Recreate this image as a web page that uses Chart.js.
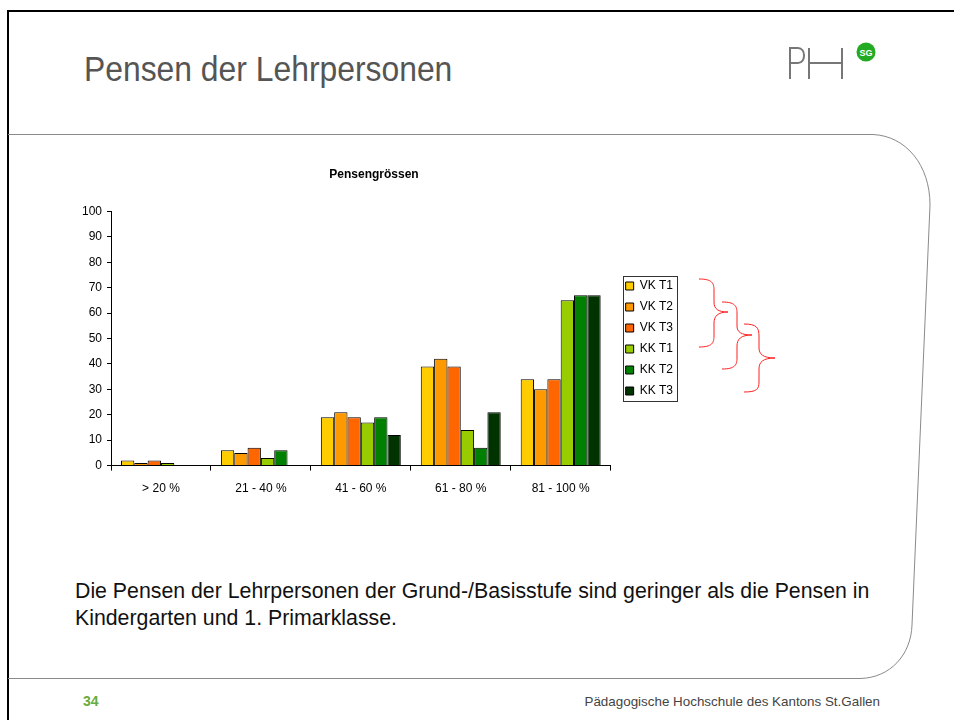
<!DOCTYPE html>
<html>
<head>
<meta charset="utf-8">
<script src="https://cdn.jsdelivr.net/npm/chart.js@4.4.0/dist/chart.umd.min.js"></script>
<style>
  body { margin: 0; width: 954px; height: 720px; background: #fff; position: relative; overflow: hidden; font-family: "Liberation Sans", Arial, sans-serif; }
  #deko { position: absolute; left: 0; top: 0; }
  #chartBox { position: absolute; left: 71px; top: 160px; width: 612px; height: 354px; }
  .title { position: absolute; left: 84px; top: 49px; font-size: 35px; color: #555; transform: scaleX(0.91); transform-origin: left top; white-space: nowrap; }
  .body { position: absolute; left: 75px; top: 578px; font-size: 21.3px; line-height: 27px; color: #111; white-space: nowrap; }
  .nr { position: absolute; left: 83px; top: 693px; font-size: 14px; font-weight: bold; color: #6aab3a; }
  .foot { position: absolute; right: 74px; top: 694px; font-size: 13.4px; color: #444; }
</style>
</head>
<body>
<svg id="deko" width="954" height="720">
  <line x1="7" y1="11" x2="954" y2="11" stroke="#000" stroke-width="2"/>
  <line x1="8" y1="10" x2="8" y2="720" stroke="#000" stroke-width="2"/>
  <path d="M 8 134.5 L 873 134.5 C 906 136, 930 165, 930 205 L 912 625 C 911 655, 890 678, 860 678.5 L 8 678.5" fill="none" stroke="#8a8a8a" stroke-width="1"/>
  <!-- logo -->
  <path d="M 790 79 L 790 48 L 798 48 C 806 48, 806 63, 798 63 L 790 63" fill="none" stroke="#777" stroke-width="2"/>
  <path d="M 809 48 L 809 79 M 809 63 L 842 63 M 842 48 L 842 79" fill="none" stroke="#777" stroke-width="2"/>
  <circle cx="866" cy="52" r="9.5" fill="#22aa22"/>
  <text x="866" y="55.5" font-size="9" font-weight="bold" fill="#fff" text-anchor="middle" font-family="Liberation Sans, Arial">SG</text>
  <!-- Klammern -->
  <g fill="none" stroke="#ff2020" stroke-width="1">
    <path d="M 699 279 C 712 279, 714 283, 714 290 L 714 302 C 714 309, 718 312, 728 312 C 718 312, 714 316, 714 323 L 714 336 C 714 343, 712 347, 699 347"/>
    <path d="M 722 302 C 735 302, 737 306, 737 313 L 737 326 C 737 332, 741 335, 752 335 C 741 335, 737 339, 737 346 L 737 358 C 737 365, 735 369, 722 369"/>
    <path d="M 744 324 C 757 324, 759 328, 759 336 L 759 348 C 759 354, 763 358, 775 358 C 763 358, 759 362, 759 369 L 759 382 C 759 389, 757 392, 744 392"/>
  </g>
</svg>
<div class="title">Pensen der Lehrpersonen</div>
<div id="chartBox"><canvas id="myChart"></canvas></div>
<div class="body">Die Pensen der Lehrpersonen der Grund-/Basisstufe sind geringer als die Pensen in<br>Kindergarten und 1. Primarklasse.</div>
<div class="nr">34</div>
<div class="foot">Pädagogische Hochschule des Kantons St.Gallen</div>
<script>
var categories = ['> 20 %', '21 - 40 %', '41 - 60 %', '61 - 80 %', '81 - 100 %'];
var vkT1 = [2, 6, 19, 39, 34];
var vkT2 = [1, 5, 21, 42, 30];
var vkT3 = [2, 7, 19, 39, 34];
var kkT1 = [1, 3, 17, 14, 65];
var kkT2 = [0, 6, 19, 7, 67];
var kkT3 = [0, 0, 12, 21, 67];

var legendGap = 6;
var legendDrop = 5;
var titleShift = -3;

// Legende etwas vom Diagramm abrücken und einrahmen
var legendFrame = {
    id: 'legendFrame',
    beforeUpdate: function(chart) {
        var lg = chart.legend;
        if (lg && !lg._gapPatched) {
            var fit = lg.fit;
            lg.fit = function() { fit.call(this); this.width += legendGap; };
            lg._gapPatched = true;
        }
    },
    afterLayout: function(chart) {
        var lg = chart.legend;
        lg.left += legendGap; lg.right += legendGap;
        lg.top += legendDrop; lg.bottom += legendDrop;
        if (chart.titleBlock) {
            chart.titleBlock.left += titleShift;
            chart.titleBlock.right += titleShift;
        }
    },
    afterDraw: function(chart) {
        var boxes = chart.legend.legendHitBoxes;
        if (!boxes || !boxes.length) return;
        var l = Infinity, t = Infinity, r = -Infinity, b = -Infinity;
        boxes.forEach(function(h) {
            l = Math.min(l, h.left); t = Math.min(t, h.top);
            r = Math.max(r, h.left + h.width); b = Math.max(b, h.top + h.height);
        });
        var c = chart.ctx;
        c.save();
        c.strokeStyle = '#333';
        c.lineWidth = 1;
        c.strokeRect(Math.round(l - 3) + 0.5, Math.round(t - 4) + 0.5, Math.round(r - l + 7), Math.round(b - t + 8));
        c.restore();
    }
};

function ds(label, data, color) {
    return { label: label, data: data, backgroundColor: color, borderColor: '#000', borderWidth: 1 };
}

var ctx = document.getElementById('myChart').getContext('2d');
var myChart = new Chart(ctx, {
    type: 'bar',
    data: {
        labels: categories,
        datasets: [
            ds('VK T1', vkT1, '#ffcc00'),
            ds('VK T2', vkT2, '#ff9900'),
            ds('VK T3', vkT3, '#ff6600'),
            ds('KK T1', kkT1, '#99cc00'),
            ds('KK T2', kkT2, '#008000'),
            ds('KK T3', kkT3, '#003300')
        ]
    },
    options: {
        responsive: true,
        maintainAspectRatio: false,
        animation: false,
        datasets: { bar: { categoryPercentage: 0.8, barPercentage: 1.0 } },
        layout: { padding: { bottom: 7, right: 0 } },
        plugins: {
            title: {
                display: true,
                text: 'Pensengrössen',
                color: '#000',
                font: { family: 'Liberation Sans, Arial', size: 12, weight: 'bold' },
                padding: { top: 7, bottom: 30 }
            },
            legend: {
                position: 'right',
                labels: {
                    color: '#000',
                    font: { family: 'Liberation Sans, Arial', size: 12 },
                    boxWidth: 8,
                    boxHeight: 8,
                    padding: 9
                }
            },
            tooltip: { enabled: false }
        },
        scales: {
            x: {
                grid: { display: true, drawOnChartArea: false, color: '#000', tickLength: 5, offset: true },
                border: { display: true, color: '#000' },
                ticks: { color: '#000', padding: 11, font: { family: 'Liberation Sans, Arial', size: 12 } }
            },
            y: {
                min: 0,
                max: 100,
                afterFit: function(scale) { scale.width = 40; },
                grid: { display: true, drawOnChartArea: false, color: '#000', tickLength: 4 },
                border: { display: true, color: '#000' },
                ticks: { stepSize: 10, color: '#000', padding: 5, font: { family: 'Liberation Sans, Arial', size: 12 } }
            }
        }
    },
    plugins: [legendFrame]
});
</script>
</body>
</html>
